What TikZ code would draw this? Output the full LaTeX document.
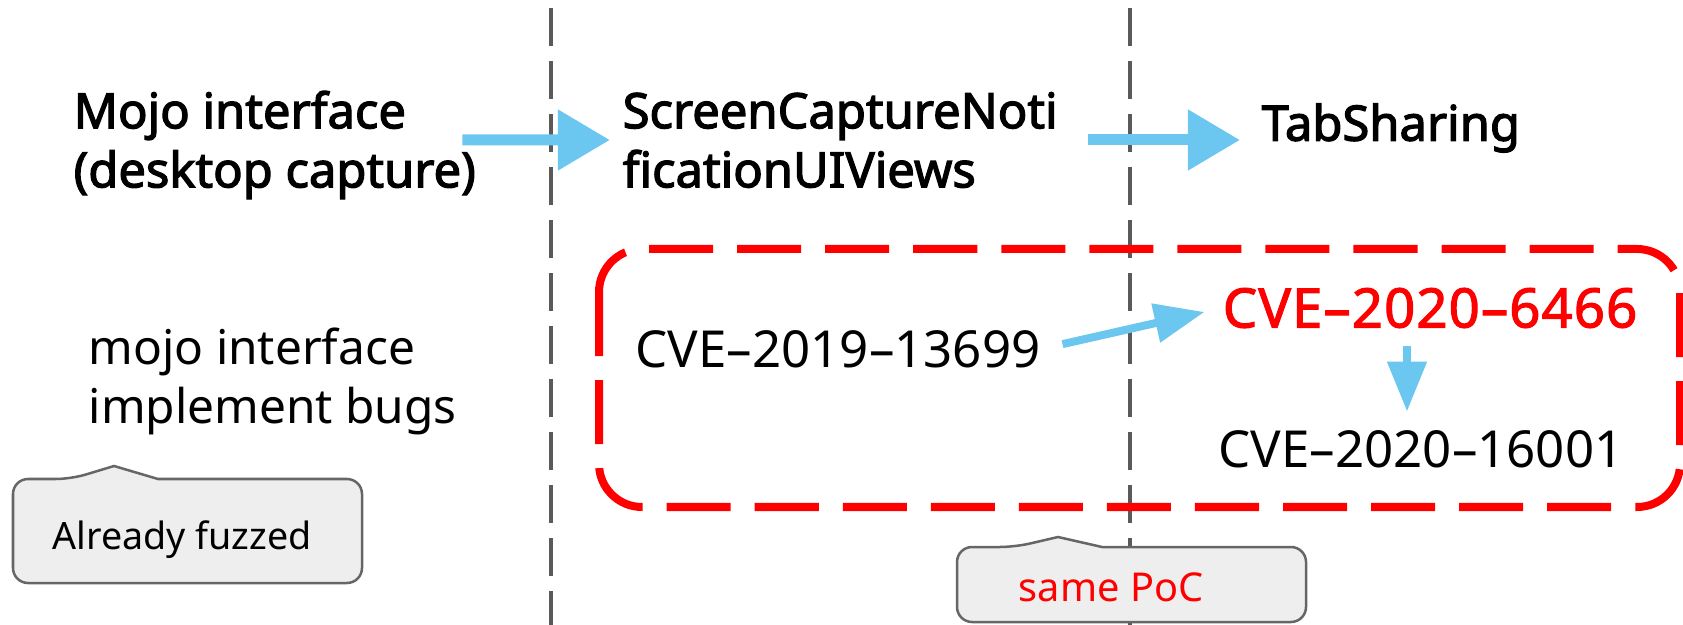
\documentclass[tikz,border=0pt]{standalone}
\usepackage{fontspec}
\setmainfont{Noto Sans}
\newfontfamily\mediumfont{Noto Sans}[FakeBold=2.5]
\newfontfamily\cvefont{Noto Sans}[FakeBold=2, LetterSpace=2]
\usepackage{tikz}
\usetikzlibrary{arrows.meta, positioning, calc}

\definecolor{arrowblue}{RGB}{108,199,240}
\definecolor{boxred}{RGB}{255,0,0}
\definecolor{linegray}{RGB}{90,90,90}
\definecolor{calloutfill}{RGB}{238,238,238}
\definecolor{calloutline}{RGB}{102,102,102}

\begin{document}
\begin{tikzpicture}[x=0.01cm, y=-0.01cm,
    label/.style={inner sep=0pt, align=left, font=\fontsize{13.6pt}{16.8pt}\selectfont},
    cve/.style={inner sep=0pt, font=\fontsize{14.5pt}{17pt}\selectfont},
    title/.style={inner sep=0pt, align=left, font=\fontsize{13.9pt}{16.8pt}\selectfont\mediumfont},
    flow/.style={arrowblue, line width=0.11cm, -{Triangle[length=0.52cm, width=0.58cm]}},
    smallflow/.style={arrowblue, line width=0.08cm, -{Triangle[length=0.5cm, width=0.38cm]}},
    divider/.style={linegray, line width=0.035cm, dash pattern=on 0.38cm off 0.15cm},
    callout/.style={draw=calloutline, fill=calloutfill, line width=0.025cm},
    note/.style={inner sep=0pt, font=\fontsize{10.7pt}{13pt}\selectfont}]

    \useasboundingbox (0,0) rectangle (1683,625);

    % Draw the column dividers
    \foreach \x in {551,1130} {
        \draw[divider] (\x,8) -- (\x,625);
    }

    % Top row
    \node[title, anchor=west] (mojo) at (73,145) {Mojo interface\\(desktop capture)};
    \node[title, anchor=west] (scn) at (622,140) {ScreenCaptureNoti\\ficationUIViews};
    \node[title, anchor=west] (tab) at (1261,128) {TabSharing};

    \draw[flow] ([xshift=-0.14cm, yshift=0.05cm]mojo.east) -- ([xshift=-0.12cm]scn.west);
    \draw[flow] ([xshift=0.30cm]scn.east) -- ($(tab.west |- scn.east)+(-21,0)$);

    % Bugs found
    \node[label, anchor=west] (bugs) at (88,381) {mojo interface\\implement bugs};

    \draw[boxred, line width=0.08cm, dash pattern=on 0.64cm off 0.24cm, rounded corners=0.43cm] (599,249) rectangle (1680,507);

    \node[cve] (cveA) at (838,349) {CVE–2019–13699};
    \node[cve, font=\fontsize{15.5pt}{18pt}\selectfont\cvefont, text=boxred] (cveB) at (1430,308) {CVE–2020–6466};
    \node[cve] (cveC) at (1421,449) {CVE–2020–16001};

    \draw[smallflow, shorten <=0.22cm, shorten >=0.18cm] (cveA.east) -- (cveB.west);
    \draw[smallflow, shorten <=0.17cm, shorten >=0.18cm] ([xshift=-0.23cm]cveB.south) -- ([xshift=-0.23cm]cveB.south |- cveC.north);

    % Callouts
    \draw[callout] (71,479) -- (114,466) -- (158,479) [rounded corners=0.15cm] -- (362,479) -- (362,583) -- (13,583) -- (13,479) -- cycle;
    \node[note] (fuzzed) at (182,540) {Already fuzzed};

    \draw[callout] (1015,547) -- (1058,537) -- (1102,547) [rounded corners=0.15cm] -- (1306,547) -- (1306,622) -- (957,622) -- (957,547) -- cycle;
    \node[note, font=\fontsize{11.3pt}{14pt}\selectfont, text=boxred] (poc) at (1111,587) {same PoC};
\end{tikzpicture}
\end{document}
